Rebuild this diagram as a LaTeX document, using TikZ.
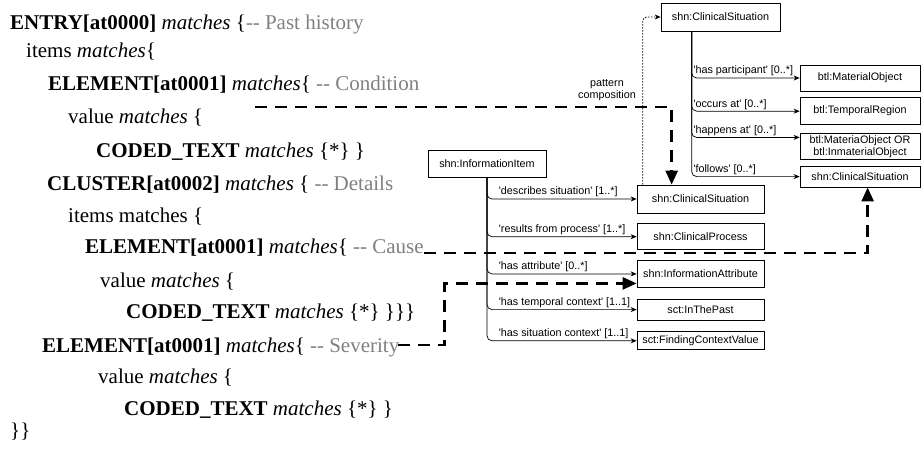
\documentclass[tikz,border=0pt]{standalone}
\usepackage{fontspec}
\setmainfont{Liberation Serif}
\newfontfamily\diafont{Liberation Sans}
\usetikzlibrary{arrows.meta,positioning,calc}
\newcommand\remark[1]{\textcolor{black!50}{#1}}
\newcommand\q{\textquotesingle}

\begin{document}
\begin{tikzpicture}[x=1pt, y=1pt,
  code/.style={anchor=base west, inner sep=0pt, font=\fontsize{21}{24}\selectfont},
  box/.style={draw, line width=0.7pt, minimum width=127pt, inner sep=1pt, align=center,
              font=\diafont\fontsize{10.8}{12}\selectfont},
  lbl/.style={anchor=south west, inner sep=1.5pt, font=\diafont\fontsize{10.8}{11.5}\selectfont},
  rel/.style={->, line width=0.7pt, rounded corners=5pt},
  compose/.style={line width=2.6pt, dash pattern=on 12pt off 8pt,
                  -{Triangle[length=14pt,width=12pt]}},
  >={Stealth[length=6pt,width=5pt]}]
  \useasboundingbox (0,0) rectangle (922,-453);
  \node[code] (entry) at (10,-29) {\textbf{ENTRY[at0000]} \textit{matches} \{\remark{-{}- Past history}};
  \node[code] (items) at (26,-57) {items \textit{matches}\{};
  \node[code] (cond) at (48,-90) {\textbf{ELEMENT[at0001]} \textit{matches}\{ \remark{-{}- Condition}};
  \node[code] (condval) at (68,-123) {value \textit{matches} \{};
  \node[code] (condcode) at (96,-157) {\textbf{CODED\_TEXT} \textit{matches} \{*\} \}};
  \node[code] (cluster) at (47,-190) {\textbf{CLUSTER[at0002]} \textit{matches} \{ \remark{-{}- Details}};
  \node[code] (citems) at (68,-222) {items matches \{};
  \node[code] (cause) at (85,-253) {\textbf{ELEMENT[at0001]} \textit{matches}\{ \remark{-{}- Cause}};
  \node[code] (causeval) at (100,-287) {value \textit{matches} \{};
  \node[code] (causecode) at (126,-318) {\textbf{CODED\_TEXT} \textit{matches} \{*\} \}\}\}};
  \node[code] (sev) at (42,-352) {\textbf{ELEMENT[at0001]} \textit{matches}\{ \remark{-{}- Severity}};
  \node[code] (sevval) at (98,-383) {value \textit{matches} \{};
  \node[code] (sevcode) at (124,-415) {\textbf{CODED\_TEXT} \textit{matches} \{*\} \}};
  \node[code] (close) at (10,-437) {\}\}};

  \node[box, minimum width=119pt, minimum height=28pt] (topsit) at (720.5,-17) {shn:ClinicalSituation};
  \node[box, minimum width=120pt, minimum height=26pt] (matobj) at (860,-78) {btl:MaterialObject};
  \node[box, minimum width=120pt, minimum height=27pt, below=6pt of matobj] (tempreg) {btl:TemporalRegion};
  \node[box, minimum width=120pt, minimum height=26pt, below=8pt of tempreg] (anyobj)
      {btl:MateriaObject OR\\ btl:InmaterialObject};
  \node[box, minimum width=120pt, minimum height=21pt, below=6pt of anyobj] (nextsit) {shn:ClinicalSituation};
  \node[box, minimum width=118pt, minimum height=27pt] (infoitem) at (487,-163.5) {shn:InformationItem};
  \node[box, minimum height=28pt] (descsit) at (700.5,-199) {shn:ClinicalSituation};
  \node[box, minimum height=26pt, below=10pt of descsit] (process) {shn:ClinicalProcess};
  \node[box, minimum height=27pt, below=10pt of process] (attrib) {shn:InformationAttribute};
  \node[box, minimum height=21pt, below=11pt of attrib] (past) {sct:InThePast};
  \node[box, minimum height=18pt, below=11pt of past] (context) {sct:FindingContextValue};
  \node[lbl, anchor=center, align=center] (patlabel) at (607,-90) {pattern\\ composition};

  \draw[rel] ([xshift=31pt]topsit.south west) |- node[lbl] (l-part) {\q has participant\q{} [0..*]} (matobj.west);
  \draw[rel] ([xshift=31pt]topsit.south west) |- node[lbl] (l-occurs) {\q occurs at\q{} [0..*]} (tempreg.west);
  \draw[rel] ([xshift=31pt]topsit.south west) |- node[lbl] (l-happens) {\q happens at\q{} [0..*]} ([yshift=9pt]anyobj.west);
  \draw[rel] ([xshift=31pt]topsit.south west) |- node[lbl] (l-follows) {\q follows\q{} [0..*]} (nextsit.west);
  \draw[rel] (infoitem.south) |- node[lbl, xshift=10pt] (l-desc) {\q describes situation\q{} [1..*]} (descsit.west);
  \draw[rel] (infoitem.south) |- node[lbl, xshift=10pt] (l-results) {\q results from process\q{} [1..*]} (process.west);
  \draw[rel] (infoitem.south) |- node[lbl, xshift=10pt] (l-attr) {\q has attribute\q{} [0..*]} (attrib.west);
  \draw[rel] (infoitem.south) |- node[lbl, xshift=10pt] (l-temp) {\q has temporal context\q{} [1..1]} (past.west);
  \draw[rel] (infoitem.south) |- node[lbl, xshift=10pt] (l-sit) {\q has situation context\q{} [1..1]} (context.west);
  \draw[->, line width=0.8pt, dash pattern=on 1.5pt off 1.5pt, rounded corners=4pt]
    ([xshift=6pt]descsit.north west) |- (topsit.west);

  \coordinate (condtail) at (255,-107);
  \draw[compose] (condtail) -| ([xshift=35pt]descsit.north west);
  \draw[compose] (cause.base east) -| ([xshift=68pt]nextsit.south west);
  \draw[compose] ($(sev.base east)+(-2,7)$) -- ++(47,0) |- ([yshift=-9.5pt]attrib.west);
\end{tikzpicture}
\end{document}
